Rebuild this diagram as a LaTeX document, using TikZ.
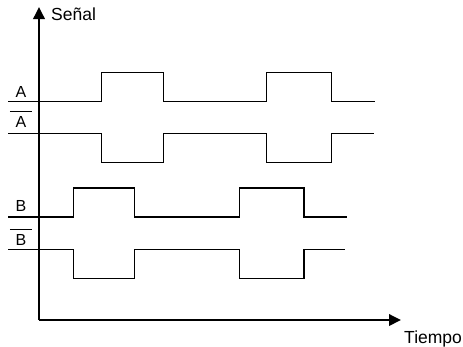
\documentclass[tikz,border=0pt]{standalone}
\usepackage{fontspec}
\setmainfont{Liberation Sans}
\usetikzlibrary{arrows.meta}
\begin{document}
\begin{tikzpicture}[x=1pt,y=-1pt,
  axis/.style={line width=1.9pt,-{Triangle[length=12pt,width=11.5pt]}},
  sig/.style={line width=1.3pt,line join=miter},
  lbl/.style={font=\fontsize{16}{19}\selectfont,anchor=base,inner sep=0pt},
  axlbl/.style={font=\fontsize{17.5}{21}\selectfont,anchor=base west,inner sep=0pt},
  bar/.style={line width=1pt}]
\useasboundingbox (0,0) rectangle (463,346);
\coordinate (o) at (39,320);
\coordinate (ytip) at (39,7);
\coordinate (xtip) at (401,320);
\draw[axis] (o) -- (ytip);
\draw[axis] (o) -- (xtip);
\node[axlbl] (senal) at (51,20) {Señal};
\node[axlbl] (tiempo) at (404,343) {Tiempo};
% signals
\draw[sig] (8,101.3) -| (101.5,72.3) -| (163.3,101.3) -| (266.7,72.3) -| (331.7,101.3) -- (375,101.3);
\draw[sig] (8,133.3) -| (101.5,162.7) -| (163.3,133.3) -| (266.7,162.7) -| (331.7,133.3) -- (374,133.3);
\draw[sig] (8,217) -| (73.5,188) -| (134.7,217) -| (239.2,188) -| (304,217) -- (347,217);
\draw[sig] (8,249.3) -| (73.5,278.7) -| (134.7,249.3) -| (239.2,278.7) -| (304,249.3) -- (345,249.3);
% labels
\node[lbl] (la) at (21,97) {A};
\node[lbl] (lan) at (21,127) {A};
\draw[bar] ([xshift=-5.5pt,yshift=4pt]lan.north west) -- ([xshift=5.5pt,yshift=4pt]lan.north east);
\node[lbl] (lb) at (21,211.5) {B};
\node[lbl] (lbn) at (21,245) {B};
\draw[bar] ([xshift=-5.5pt,yshift=4pt]lbn.north west) -- ([xshift=5.5pt,yshift=4pt]lbn.north east);
\end{tikzpicture}
\end{document}
